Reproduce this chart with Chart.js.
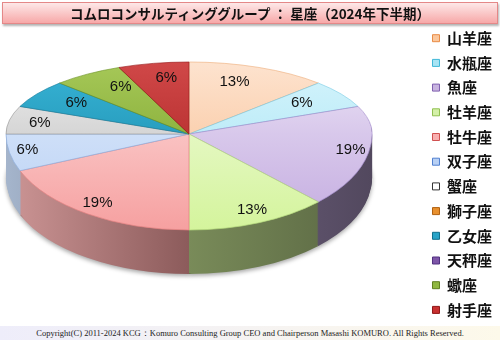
<!DOCTYPE html>
<html><head><meta charset="utf-8">
<script src="https://cdn.jsdelivr.net/npm/chart.js@4"></script>
<style>
html,body{margin:0;padding:0;background:#fff;}
#wrap{position:relative;width:500px;height:340px;overflow:hidden;background:#fff;}
canvas{position:absolute;left:0;top:0;}
#title{position:absolute;left:2px;top:2px;width:494px;height:20px;border:1px solid #e48888;
  background:linear-gradient(#fde8e8,#f7a8a8);box-shadow:1px 2px 2px rgba(0,0,0,0.3);
  font:bold 13.5px "Noto Sans CJK JP";text-align:center;line-height:20px;color:#111;white-space:pre;}
#footer{position:absolute;left:0;top:326px;width:500px;height:14px;background:linear-gradient(90deg,#eeedfa,#fdf9ea);
  font:8.5px "Liberation Serif";text-align:center;line-height:15px;color:#222;white-space:pre;}
</style></head>
<body><div id="wrap"><canvas id="c" width="500" height="340"></canvas>
<div id="title">コムロコンサルティンググループ ： 星座（2024年下半期）</div>
<div id="footer">Copyright(C) 2011-2024 KCG：Komuro Consulting Group CEO and Chairperson Masashi KOMURO. All Rights Reserved.</div>
</div>
<script>
const categories = ['山羊座','水瓶座','魚座','牡羊座','牡牛座','双子座','蟹座','獅子座','乙女座','天秤座','蠍座','射手座'];
const counts = [2,1,3,2,3,1,1,0,1,0,1,1];

// styles
const topLight = ['#fde3cf','#d5f4fc','#ece4f6','#f4fbe6','#fde4e4','#e4eefc','#eeeeee','#f0a050','#38b4d6','#9070b8','#a6c858','#d04848'];
const topDark  = ['#f9bf92','#a8e4f4','#c4ace0','#d4f49c','#f6a0a0','#b8d0f4','#bdbdbd','#d07820','#1888a8','#6a4498','#78a028','#a82020'];
const borderCols = ['#eeb080','#80cfe6','#a890d0','#b8dc80','#e48282','#90b0e0','#9a9a9a','#c07020','#1a80a0','#603c90','#6e9428','#981c1c'];
const legendFill = ['#fbc79c','#a8e4f4','#c8b4e0','#d4f0a8','#f8b0b0','#b8d0f4','#ffffff','#e8902e','#28a4c8','#7e56a8','#90b840','#c83030'];
const legendStroke = ['#e98c46','#40b8d8','#8060b0','#90c050','#d05050','#5080d0','#333333','#b06010','#10708c','#503080','#608020','#901818'];

const G = {cx:189, cy:134, rx:183, ryTop:72, ryBot:96, depth:44};

function hex(c){return [parseInt(c.slice(1,3),16),parseInt(c.slice(3,5),16),parseInt(c.slice(5,7),16)];}
function shade(c,f,gray){const a=hex(c);const g=gray||0;return 'rgb('+a.map(v=>Math.round((v*(1-g)+170*g)*f)).join(',')+')';}

const pie3d = {
  id:'pie3d',
  beforeDatasetsDraw(chart){
    const ctx = chart.ctx;
    const arcs = chart.getDatasetMeta(0).data;
    if(!arcs.length) return false;
    const cx0 = arcs[0].x, cy0 = arcs[0].y, R0 = arcs[0].outerRadius;
    const sideG = arcs.map((el,i)=>{
      const g = ctx.createLinearGradient(cx0-R0,0,cx0+R0,0);
      g.addColorStop(0, shade(topDark[i],0.92,0.3));
      g.addColorStop(0.5, shade(topDark[i],0.57));
      g.addColorStop(1, shade(topDark[i],0.42));
      return g;
    });
    const topG = arcs.map((el,i)=>{
      const g = ctx.createLinearGradient(0,cy0-R0,0,cy0+R0);
      g.addColorStop(0, topLight[i]);
      g.addColorStop(1, topDark[i]);
      return g;
    });
    const drawPie = (dy, fills, bw, shadow) => {
      for(const half of [0,1]){
        ctx.save();
        ctx.beginPath();
        if(half===0) ctx.rect(0,0,chart.width,G.cy+dy); else ctx.rect(0,G.cy+dy,chart.width,chart.height);
        ctx.clip();
        if(shadow){ctx.shadowColor='rgba(0,0,0,0.35)';ctx.shadowBlur=4;ctx.shadowOffsetY=2;}
        ctx.translate(G.cx, G.cy+dy);
        ctx.scale(G.rx/R0, (half?G.ryBot:G.ryTop)/R0);
        ctx.translate(-cx0,-cy0);
        arcs.forEach((el,i)=>{
          if(!(el.circumference>0)) return;
          const saved = el.options;
          el.options = Object.assign({}, saved, {backgroundColor: fills[i], borderWidth: bw, borderColor: borderCols[i]});
          el.draw(ctx);
          el.options = saved;
        });
        ctx.restore();
      }
    };
    drawPie(G.depth, sideG, 0, true);
    for(let d=G.depth-1; d>=1; d--) drawPie(d, sideG, 0, false);
    drawPie(0, topG, 0.8, false);

    // percentage labels
    const total = counts.reduce((a,b)=>a+b,0);
    ctx.save();
    ctx.font = '15px "Liberation Sans"';
    ctx.fillStyle = '#111';
    ctx.textAlign='center'; ctx.textBaseline='middle';
    arcs.forEach((el,i)=>{
      if(!counts[i]) return;
      const a = (el.startAngle+el.endAngle)/2;
      const c = Math.cos(a), s = Math.sin(a);
      let x,y;
      if(s<0){ x = G.cx + G.rx*c*(0.88-0.25*Math.abs(s)); y = G.cy + G.ryTop*0.79*s; }
      else { x = G.cx + G.rx*c*0.9; y = G.cy + G.ryBot*0.86*s; }
      ctx.fillText(Math.round(counts[i]/total*100)+'%', x, y);
    });
    ctx.restore();
    return false;
  }
};

new Chart(document.getElementById('c'), {
  type:'pie',
  data:{labels:categories, datasets:[{data:counts, backgroundColor:topDark, borderColor:borderCols, borderWidth:0.8}]},
  options:{
    responsive:false, animation:false,
    layout:{padding:{top:21,right:-2,bottom:0,left:0}},
    plugins:{
      tooltip:{enabled:false},
      legend:{position:'right', align:'start',
        labels:{boxWidth:7, boxHeight:7, padding:9.7, color:'#111',
          font:{family:'"Noto Sans CJK JP"', size:15, weight:'bold'},
          generateLabels:()=>categories.map((c,i)=>({text:c, fillStyle:legendFill[i], strokeStyle:legendStroke[i], lineWidth:1, hidden:false, index:i, fontColor:'#111'}))
        }}
    }
  },
  plugins:[pie3d]
});
</script>
</body></html>
